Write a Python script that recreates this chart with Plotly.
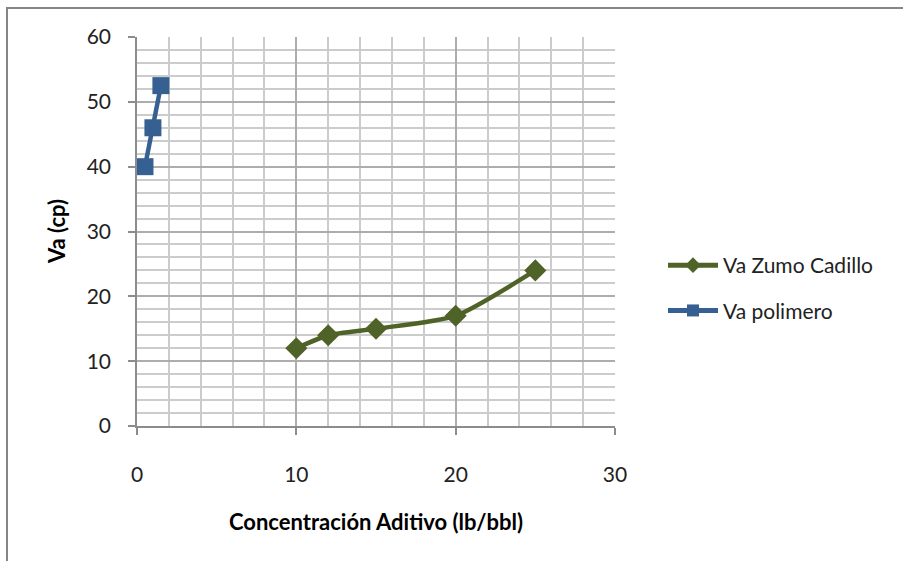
import plotly.graph_objects as go

zumo_x = [10, 12, 15, 20, 25]
zumo_y = [12, 14, 15, 17, 24]
poli_x = [0.5, 1, 1.5]
poli_y = [40, 46, 52.5]

L, R, T, B = 137, 288, 37, 135
W, H = 903, 561
pw, ph = W - L - R, H - T - B

fig = go.Figure()
fig.add_trace(go.Scatter(x=zumo_x, y=zumo_y, name="Va Zumo Cadillo", mode="lines+markers",
                         legendgroup="a",
                         line=dict(color="#4F6228", width=4.5, shape="spline", smoothing=0.6),
                         marker=dict(symbol="diamond", size=17, color="#4F6228")))
fig.add_trace(go.Scatter(x=poli_x, y=poli_y, name="Va polimero", mode="lines+markers",
                         legendgroup="b",
                         line=dict(color="#366092", width=4.5),
                         marker=dict(symbol="square", size=17, color="#366092")))

font = "Lato, 'Open Sans', sans-serif"
axis_common = dict(showline=True, linecolor="#8C8C8C", linewidth=1.5, ticks="outside",
                   ticklen=7, tickcolor="#8C8C8C", tickwidth=1.5, showgrid=True,
                   gridcolor="#ADADAD", gridwidth=2, zeroline=False,
                   tickfont=dict(size=21, color="#222"))
fig.update_layout(
    width=W, height=H, margin=dict(l=L, r=R, t=T, b=B),
    paper_bgcolor="white", plot_bgcolor="white",
    font=dict(family=font, size=21, color="#000"),
    showlegend=True,
    legend=dict(x=(663 - L) / pw, y=(426 - 245) / ph, xanchor="left", yanchor="top",
                font=dict(size=21, color="#222"), traceorder="grouped", tracegroupgap=15,
                itemsizing="constant", itemwidth=50, bgcolor="rgba(0,0,0,0)"),
    xaxis=dict(range=[0, 30], tickvals=[0, 10, 20, 30], ticklabelstandoff=22,
               minor=dict(dtick=2, showgrid=True, gridcolor="#CCCCCC", gridwidth=1.5),
               title=dict(text="<b>Concentración Aditivo (lb/bbl)</b>", standoff=30,
                          font=dict(size=22)),
               **axis_common),
    yaxis=dict(range=[0, 60], tickvals=[0, 10, 20, 30, 40, 50, 60], ticklabelstandoff=13,
               minor=dict(dtick=2, showgrid=True, gridcolor="#CCCCCC", gridwidth=1.5),
               **axis_common),
)
fig.add_annotation(text="<b>Va (cp)</b>", xref="paper", yref="paper",
                   x=(57 - L) / pw, y=(426 - 232) / ph, textangle=-90, showarrow=False,
                   xanchor="center", yanchor="middle", font=dict(size=22, color="#000"))
fig.add_shape(type="rect", xref="paper", yref="paper",
              x0=(7 - L) / pw, x1=(W + 20 - L) / pw,
              y0=(T + ph - (H + 20)) / ph, y1=(T + ph - 8) / ph,
              line=dict(color="#868686", width=2), fillcolor="rgba(0,0,0,0)", layer="below")
fig.write_html("out.html")
